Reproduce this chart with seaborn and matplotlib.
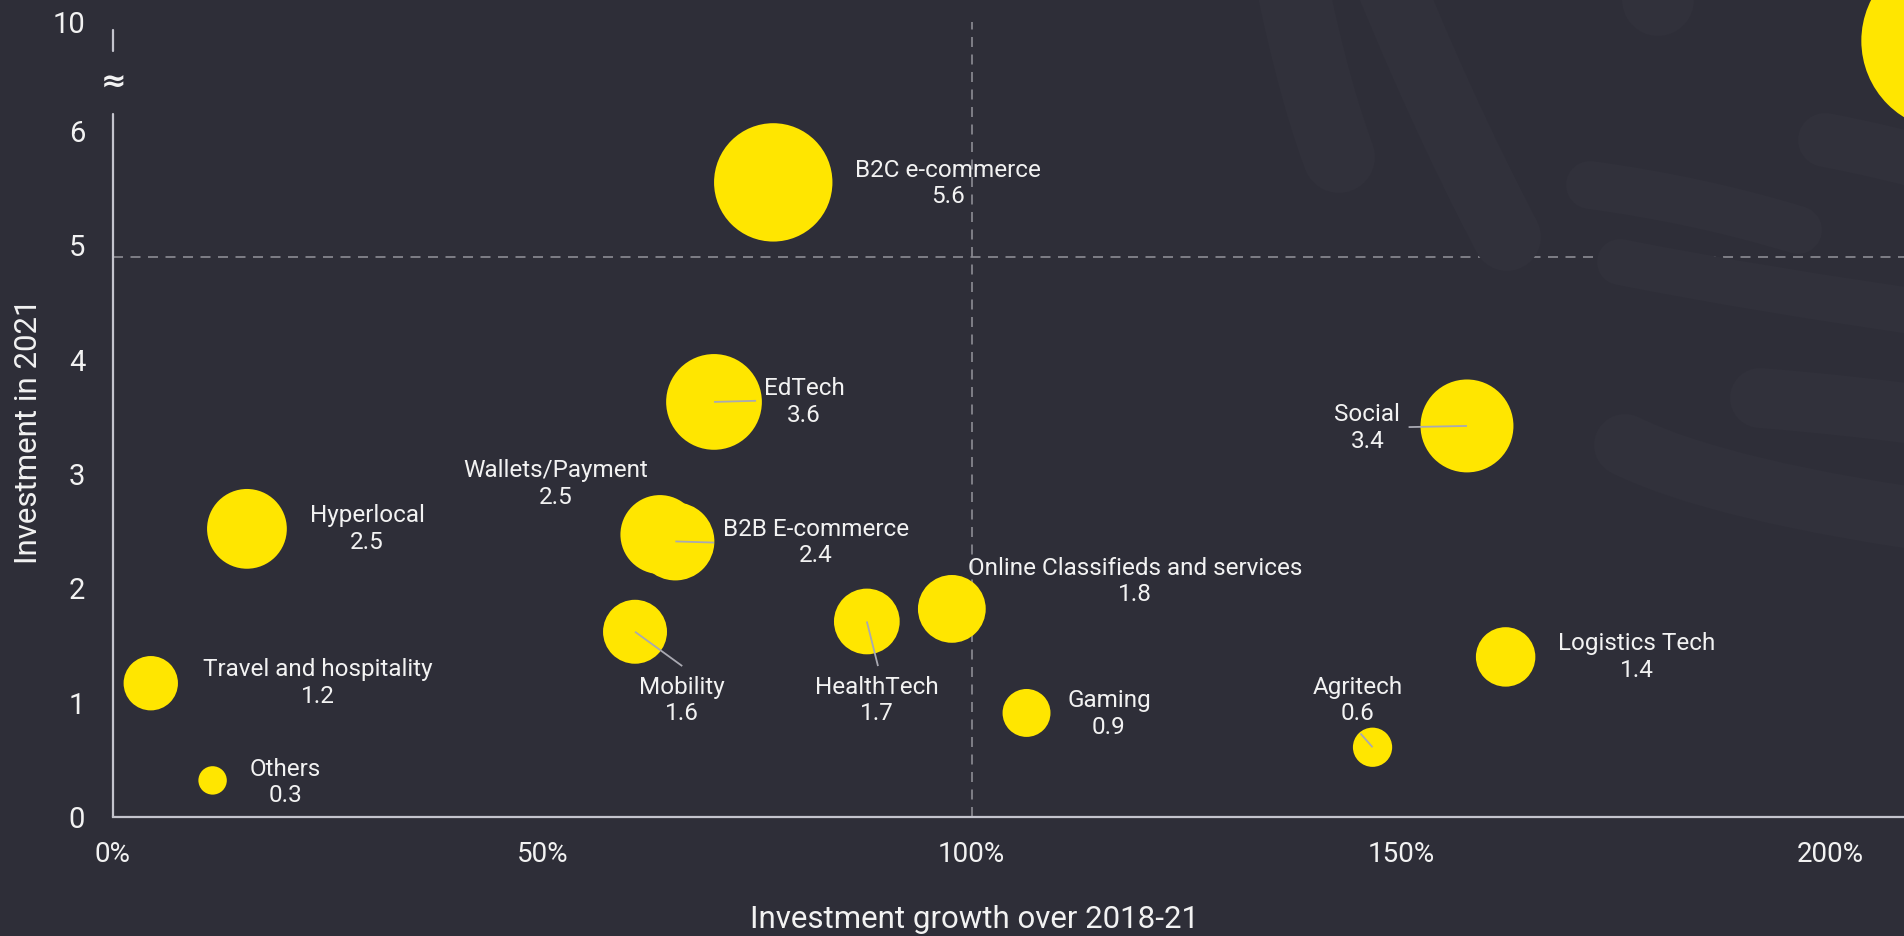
import numpy as np
import pandas as pd
import matplotlib
matplotlib.use("Agg")
import matplotlib.pyplot as plt
import seaborn as sns
from matplotlib.path import Path
from matplotlib.patches import PathPatch
from matplotlib.ticker import FuncFormatter

# ---------------- data ----------------
sectors = ["B2C e-commerce", "EdTech", "Social", "Hyperlocal", "Wallets/Payment",
           "B2B E-commerce", "Online Classifieds and services", "HealthTech",
           "Mobility", "Logistics Tech", "Travel and hospitality", "Gaming",
           "Agritech", "Others", "Fintech"]
growth_pct = [76.9, 70.0, 157.7, 15.6, 63.7, 65.5, 97.7, 87.8, 60.8, 162.2,
              4.4, 106.4, 146.7, 11.6, 214.1]
investment = [5.55, 3.63, 3.42, 2.52, 2.47, 2.41, 1.82, 1.71, 1.62, 1.40,
              1.17, 0.91, 0.61, 0.32, 9.3]
bubble_size = [5.55, 3.63, 3.42, 2.52, 2.47, 2.41, 1.82, 1.71, 1.62, 1.40,
               1.17, 0.91, 0.61, 0.32, 12.8]
value_text = ["5.6", "3.6", "3.4", "2.5", "2.5", "2.4", "1.8", "1.7", "1.6",
              "1.4", "1.2", "0.9", "0.6", "0.3", ""]
show_label = [True] * 14 + [False]

x_ticks = [0, 50, 100, 150, 200]
y_ticks = [0, 1, 2, 3, 4, 5, 6, 10]
mean_growth = 100
mean_investment = 4.9

# label anchor (centre of the two-line label), in data units
label_x = [97.3, 80.5, 146.1, 29.6, 51.6, 81.9, 119.0, 89.0, 66.3, 177.5,
           23.9, 116.0, 145.0, 20.1, None]
label_y = [5.54, 3.63, 3.40, 2.52, 2.91, 2.40, 2.06, 1.02, 1.02, 1.40,
           1.17, 0.90, 1.02, 0.30, None]
# leader line end points (from bubble centre)
leader_end = {1: (74.9, 3.64), 2: (150.9, 3.41), 5: (70.0, 2.40),
              7: (89.1, 1.32), 8: (66.3, 1.32), 12: (145.3, 0.73)}

df = pd.DataFrame({"sector": sectors, "growth": growth_pct,
                   "investment": investment, "size": bubble_size})

# ---------------- style ----------------
BG = "#2E2E38"
BAND = "#31313B"
YELLOW = "#FFE600"
TXT = "#F2F2F2"
AXC = "#C4C4CD"
DASH = "#8C8C94"

sns.set_theme(style="white", rc={"figure.facecolor": BG, "axes.facecolor": "none",
                                 "savefig.facecolor": BG})
plt.rcParams["font.family"] = ["Roboto", "DejaVu Sans"]

W, H = 1904, 936
fig = plt.figure(figsize=(W / 100, H / 100), dpi=100)

# decorative background bands (figure pixel coordinates, origin top-left)
bands = [
    [(1283, -60), (1310, 80), (1339, 157), 72],
    [(1372, -60), (1440, 110), (1507, 237), 68],
    [(1652, -80), (1655, -40), (1658, 0), 72],
    [(1590, 185), (1700, 200), (1798, 230), 48],
    [(1825, 140), (1880, 150), (1960, 172), 54],
    [(1620, 262), (1760, 290), (1960, 318), 46],
    [(1760, 398), (1850, 405), (1960, 420), 60],
    [(1625, 445), (1720, 492), (1960, 525), 62],
]
for p0, p1, p2, w in bands:
    verts = [(x / W, 1 - y / H) for (x, y) in (p0, p1, p2)]
    path = Path(verts, [Path.MOVETO, Path.CURVE3, Path.CURVE3])
    fig.patches.append(PathPatch(path, transform=fig.transFigure, fill=False,
                                 edgecolor=BAND, linewidth=w * 0.72,
                                 capstyle="round", zorder=0))

ax_left = 113 / W
ax_bottom = 119 / H
ax = fig.add_axes([ax_left, ax_bottom, 1 - ax_left, 1 - ax_bottom])

K = 0.239
def fwd(y):
    y = np.asarray(y, dtype=float)
    return np.where(y <= 6, y, 6 + (y - 6) * K)
def inv(t):
    t = np.asarray(t, dtype=float)
    return np.where(t <= 6, t, 6 + (t - 6) / K)

ax.set_yscale("function", functions=(fwd, inv))

# reference lines
ax.plot([mean_growth, mean_growth], [0, 10], color=DASH, lw=1.2,
        dashes=(6, 4.5), zorder=1)
ax.plot([0, 250], [mean_investment, mean_investment], color=DASH, lw=1.2,
        dashes=(6, 4.5), zorder=1)

sns.scatterplot(data=df, x="growth", y="investment", size="size",
                sizes=(0, 1309 * 13), size_norm=(0, 13), color=YELLOW,
                linewidth=0, legend=False, ax=ax, zorder=3, alpha=1)

# leader lines
for i, (lx, ly) in leader_end.items():
    ax.plot([growth_pct[i], lx], [investment[i], ly], color="#A9A9B2",
            lw=1.3, zorder=4, solid_capstyle="butt")

# labels
for i, name in enumerate(sectors):
    if not show_label[i]:
        continue
    ax.text(label_x[i], label_y[i], f"{name}\n{value_text[i]}", ha="center",
            va="center", fontsize=17.5, color=TXT, linespacing=1.2,
            zorder=5)

ax.set_xlim(0, 208.6)
ax.set_ylim(0, inv(7.145))
ax.set_xticks(x_ticks)
ax.xaxis.set_major_formatter(FuncFormatter(lambda v, p: f"{v:.0f}%"))
ax.set_yticks(y_ticks)
ax.set_yticklabels([str(v) for v in y_ticks])
ax.tick_params(axis="x", length=0, pad=17, labelsize=20, labelcolor=TXT)
ax.tick_params(axis="y", length=0, pad=20, labelsize=21, labelcolor=TXT)

for s in ["top", "right", "left"]:
    ax.spines[s].set_visible(False)
ax.spines["bottom"].set_color(AXC)
ax.spines["bottom"].set_linewidth(1.6)

# broken y-axis
ax.plot([0, 0], [0, 1 - 114 / 817], transform=ax.transAxes, color=AXC,
        lw=1.6, clip_on=False, zorder=2)
ax.plot([0, 0], [1 - 51 / 817, 1 - 30 / 817], transform=ax.transAxes,
        color=AXC, lw=1.6, clip_on=False, zorder=2)
ax.text(0, 1 - 83 / 817, "\u2248", transform=ax.transAxes, ha="center",
        va="center", fontsize=22, fontweight="bold", color=TXT,
        family=["DejaVu Sans"])

ax.set_xlabel("Investment growth over 2018-21", fontsize=22.5, color=TXT,
              va="center")
ax.set_ylabel("Investment in 2021", fontsize=22.5, color=TXT, va="center")
ax.xaxis.set_label_coords((975 - 113) / 1791, -(919 - 817) / 817)
ax.yaxis.set_label_coords((29 - 113) / 1791, 1 - 431 / 817)

fig.savefig("out.png", dpi=100, facecolor=BG)
